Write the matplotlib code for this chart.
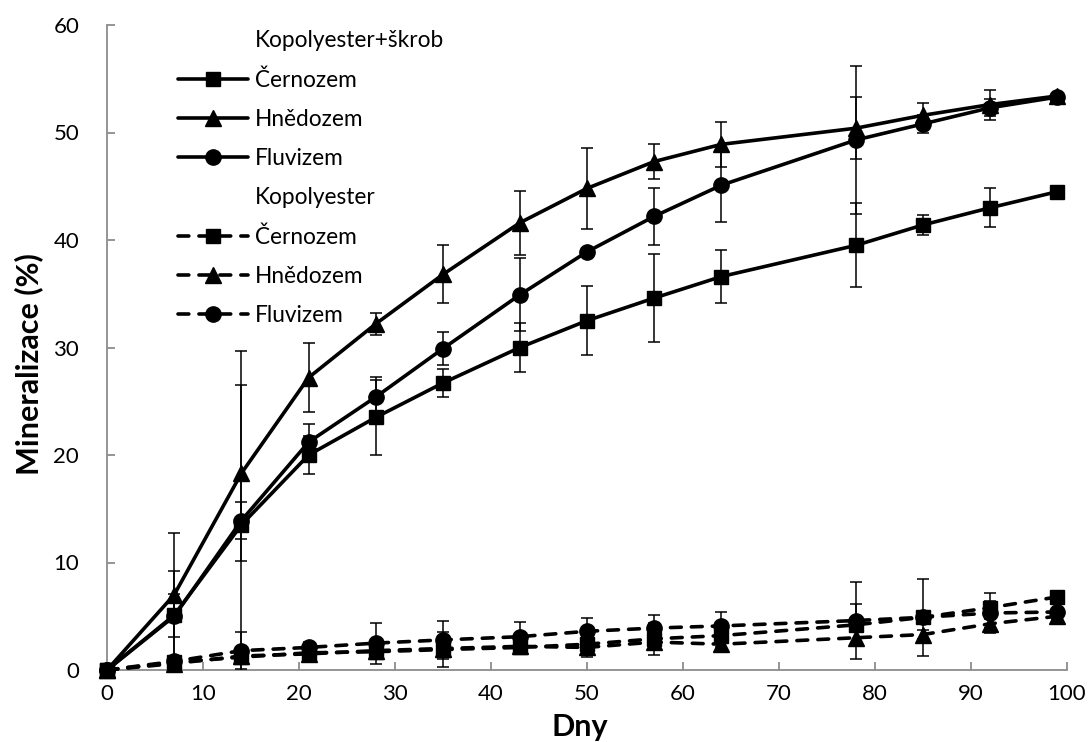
import matplotlib
matplotlib.use("Agg")
import matplotlib.pyplot as plt
from matplotlib.lines import Line2D

plt.rcParams['font.family'] = ['Lato', 'DejaVu Sans']

days = [0, 7, 14, 21, 28, 35, 43, 50, 57, 64, 78, 85, 92, 99]

# Kopolyester+škrob
ks_cer = [0, 5.1, 13.5, 20.0, 23.5, 26.7, 30.0, 32.5, 34.6, 36.6, 39.5, 41.4, 43.0, 44.5]
ks_cer_err = [0, 2.0, 16.2, 1.8, 3.5, 1.3, 2.3, 3.2, 4.1, 2.5, 3.9, 0.9, 1.8, 0.3]
ks_hne = [0, 7.0, 18.3, 27.2, 32.2, 36.8, 41.6, 44.8, 47.3, 48.9, 50.4, 51.6, 52.6, 53.4]
ks_hne_err = [0, 5.7, 8.2, 3.2, 1.0, 2.7, 3.0, 3.8, 1.65, 2.1, 2.9, 1.1, 1.4, 0.2]
ks_flu = [0, 5.0, 13.9, 21.2, 25.4, 29.9, 34.9, 38.9, 42.2, 45.1, 49.3, 50.8, 52.3, 53.3]
ks_flu_err = [0, 4.2, 1.7, 1.7, 1.9, 1.5, 3.4, 0.4, 2.65, 3.4, 6.9, 0.8, 0.8, 0.2]

# Kopolyester
k_cer = [0, 0.7, 1.2, 1.6, 1.7, 1.9, 2.1, 2.4, 2.9, 3.2, 4.2, 4.9, 5.8, 6.8]
k_cer_err = [0, 0.3, 0.3, 0.3, 0.4, 1.6, 0.4, 1.2, 1.5, 0.5, 1.9, 3.6, 0.6, 0.3]
k_hne = [0, 0.6, 1.3, 1.5, 1.8, 2.0, 2.2, 2.1, 2.6, 2.4, 3.0, 3.3, 4.3, 5.0]
k_hne_err = [0, 0.2, 0.3, 0.3, 0.3, 0.3, 0.3, 0.3, 0.3, 0.3, 0.5, 0.4, 0.4, 0.3]
k_flu = [0, 0.8, 1.8, 2.1, 2.5, 2.8, 3.1, 3.6, 3.9, 4.1, 4.6, 4.9, 5.3, 5.4]
k_flu_err = [0, 0.3, 1.7, 0.5, 1.9, 1.8, 1.4, 1.2, 1.2, 1.3, 3.6, 0.5, 1.9, 0.3]

soil_names = ['Černozem', 'Hnědozem', 'Fluvizem']
group_names = ['Kopolyester+škrob', 'Kopolyester']

fig = plt.figure(figsize=(10.89, 7.42), dpi=100)
ax = fig.add_axes([107/1089, 1-670/742, 960/1089, 645/742])

markers = ['s', '^', 'o']
msizes = [10.5, 11, 11]
lw = 2.6
dash = (3.0, 2.8)

series_solid = [(ks_cer, ks_cer_err), (ks_hne, ks_hne_err), (ks_flu, ks_flu_err)]
series_dash = [(k_cer, k_cer_err), (k_hne, k_hne_err), (k_flu, k_flu_err)]

handles = []
labels = []
blank = Line2D([], [], linestyle='none', marker='none')

handles.append(blank); labels.append(group_names[0])
for (vals, err), m, ms, name in zip(series_solid, markers, msizes, soil_names):
    ax.errorbar(days, vals, yerr=err, fmt='none', ecolor='black', elinewidth=1.1,
                capsize=4.5, capthick=1.1, zorder=3)
    ln, = ax.plot(days, vals, color='black', lw=lw, marker=m, ms=ms,
                  clip_on=False, zorder=4, solid_capstyle='round')
    handles.append(ln); labels.append(name)

handles.append(blank); labels.append(group_names[1])
for (vals, err), m, ms, name in zip(series_dash, markers, msizes, soil_names):
    ax.errorbar(days, vals, yerr=err, fmt='none', ecolor='black', elinewidth=1.1,
                capsize=4.5, capthick=1.1, zorder=3)
    ln, = ax.plot(days, vals, color='black', lw=lw, marker=m, ms=ms,
                  linestyle=(0, dash), dash_capstyle='round',
                  clip_on=False, zorder=4)
    handles.append(ln); labels.append(name)

ax.set_xlim(0, 100)
ax.set_ylim(0, 60)
ax.set_xticks(range(0, 101, 10))
ax.set_yticks(range(0, 61, 10))

for s in ['top', 'right']:
    ax.spines[s].set_visible(False)
for s in ['left', 'bottom']:
    ax.spines[s].set_color('#8c8c8c')
    ax.spines[s].set_linewidth(1.3)

ax.tick_params(axis='both', direction='in', length=5.5, width=1.3, color='#8c8c8c',
               labelsize=16, labelcolor='black')
ax.tick_params(axis='y', pad=20)
ax.tick_params(axis='x', pad=10)

ax.set_xlabel('Dny', fontsize=22, fontweight='bold')
ax.xaxis.set_label_coords(0.492, -0.067)
ax.set_ylabel('Mineralizace (%)', fontsize=22, fontweight='bold')
ax.yaxis.set_label_coords(-0.066, 0.475)

leg = ax.legend(handles, labels, loc='upper left', bbox_to_anchor=(0.074, 0.992),
                frameon=False, fontsize=16.3, numpoints=1, handlelength=3.1,
                handletextpad=0.3, labelspacing=0.8, borderpad=0, borderaxespad=0)

fig.savefig('out.png', dpi=100)
